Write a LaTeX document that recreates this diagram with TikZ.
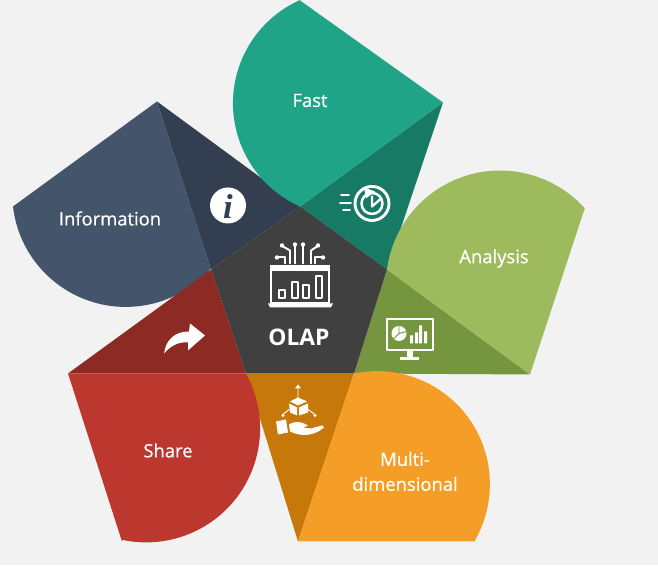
\documentclass[tikz,border=0pt]{standalone}
\usepackage{fontspec}
\setmainfont{Open Sans}
\newfontfamily\labfont[FakeBold=0.6]{Open Sans}
\newfontfamily\infofont{Liberation Serif}
\definecolor{pagebg}{HTML}{F2F2F2}
\definecolor{hubgray}{HTML}{404040}
\definecolor{tealL}{HTML}{1FA487}
\definecolor{tealD}{HTML}{177A65}
\definecolor{greenL}{HTML}{9DBB5D}
\definecolor{greenD}{HTML}{76953F}
\definecolor{orangeL}{HTML}{F49D27}
\definecolor{orangeD}{HTML}{C6780A}
\definecolor{redL}{HTML}{BC372D}
\definecolor{redD}{HTML}{8D2A23}
\definecolor{blueL}{HTML}{44546A}
\definecolor{blueD}{HTML}{333F50}
\tikzset{
    petal/.style = {fill=#1},
    lab/.style = {text=white,font=\labfont\fontsize{13.3}{18}\selectfont,align=center,inner sep=0},
    hublab/.style = {text=white,font=\fontsize{16.5}{18}\selectfont\bfseries,inner sep=0},
    ico/.style = {draw=white,line width=1.4,line cap=round,line join=round},
}
\begin{document}
\begin{tikzpicture}[x=0.0254cm,y=-0.0254cm]

\fill[pagebg] (0,0) rectangle (658,565);

\coordinate (ptop) at (300,206);
\coordinate (pright) at (387,269);
\coordinate (pbr) at (354,373);
\coordinate (pbl) at (246,373);
\coordinate (pleft) at (211,269);
\coordinate (tealtip) at (443,102);
\coordinate (greentip) at (530,374);
\coordinate (orangetip) at (298,541);
\coordinate (redtip) at (68,373);
\coordinate (bluetip) at (157,101);

% light part under the red one
\fill[petal=blueL] (bluetip) -- (13,206) arc[start angle=173.4,end angle=41.5,radius=113.5] -- (pleft) -- cycle;

% dark parts
\fill[petal=blueD] (pleft) -- (bluetip) -- (ptop) -- cycle;
\fill[petal=tealD] (ptop) -- (tealtip) -- (pright) -- cycle;
\fill[petal=greenD] (pright) -- (greentip) -- (pbr) -- cycle;
\fill[petal=orangeD] (pbr) -- (orangetip) -- (pbl) -- cycle;
\fill[petal=redD] (pbl) -- (redtip) -- (pleft) -- cycle;

% light parts
\fill[petal=tealL] (ptop) arc[start angle=114,end angle=246,radius=113] -- (300,0) -- (tealtip) -- cycle;
\fill[petal=greenL] (pright) arc[start angle=187.6,end angle=318,radius=114] -- (585,207) -- (greentip) -- cycle;
\fill[petal=orangeL] (pbr) arc[start angle=258.3,end angle=390,radius=113] -- (476,541) -- (orangetip) -- cycle;
\fill[petal=redL] (pbl) arc[start angle=-28.8,end angle=102,radius=114] -- (122,541) -- (redtip) -- cycle;

\fill[hubgray] (ptop) -- (pright) -- (pbr) -- (pbl) -- (pleft) -- cycle;

% labels
\node[lab] (fast) at (310,100) {Fast};
\node[lab] (analysis) at (494,258) {Analysis};
\node[lab] (multi) at (405,471) {Multi-\\dimensional};
\node[lab] (share) at (168,450) {Share};
\node[lab] (info) at (110,218) {Information};
\node[hublab] (olap) at (299,337) {OLAP};

% info icon
\fill[white] (228,205) circle (18);
\node[text=blueD,font=\infofont\fontsize{25}{25}\selectfont\bfseries\itshape,inner sep=0] (itxt) at (228,206) {i};

% clock icon
\draw[ico,line width=2.1] (372,203) circle (17);
\draw[ico,line width=1.8] (372,203) circle (10.5);
\fill[white] (364,187) -- (375,191) -- (366,198) -- cycle;
\draw[ico,line width=1.7] (372,196) -- (372,206) -- (380,199);
\draw[ico] (341,195) -- (349,195) (340,203) -- (351,203) (343,210) -- (350,210);

% hub icon
\draw[ico] (271,267) rectangle (329,303);
\fill[white] (270,265) rectangle (330,271);
\fill[white] (268,303) -- (333,303) -- (331,307) -- (270,307) -- cycle;
\draw[ico] (279,290) rectangle (285,298);
\draw[ico] (292,282) rectangle (298,298);
\draw[ico] (303,285) rectangle (309,298);
\draw[ico] (316,276) rectangle (322,298);
\draw[ico] (295,263) -- (295,245) (303,263) -- (303,245);
\draw[ico] (290,263) -- (290,250) -- (283,246) (311,263) -- (311,250) -- (317,246);
\draw[ico] (285,263) -- (285,257) -- (277,257) (315,263) -- (315,257) -- (323,257);
\fill[white] (282,245) circle (2.2) (295,244) circle (2.2) (303,244) circle (2.2) (318,245) circle (2.2) (277,257) circle (2.2) (323,257) circle (2.2);

% monitor icon
\draw[ico] (387,319) rectangle (433,350);
\fill[white] (407,350) rectangle (413,357);
\fill[white] (400,357) rectangle (419,360);
\fill[white] (399,333) circle (7.5);
\draw[greenD,line width=0.7] (399,333) -- (399,325) (399,333) -- (407,331) (399,333) -- (393,339);
\fill[white] (410,335) rectangle (413,343) (415,332) rectangle (418,343) (419,325) rectangle (422,343) (424,331) rectangle (427,343);

% hand cube icon
\fill[white] (298,405) -- (290,401) -- (298,397) -- (307,401) -- cycle;
\fill[white] (289,403) -- (297,407) -- (297,415) -- (290,412) -- cycle;
\fill[white] (299,407) -- (308,403) -- (308,412) -- (299,415) -- cycle;
\draw[ico,line width=0.7] (298,397) -- (298,386) (289,409) -- (283,414) (308,409) -- (315,414);
\fill[white] (298,384) -- (295,388) -- (301,388) -- cycle;
\fill[white] (283,415) circle (1.6) (315,415) circle (1.6);
\fill[white] (276,421) -- (286,419) -- (288,432) -- (278,434) -- cycle;
\fill[white] (289,424) .. controls (296,420) and (301,421) .. (308,425) -- (303,427) -- (311,428) -- (322,425) -- (324,427) .. controls (315,435) and (302,437) .. (290,431) -- cycle;

% share arrow
\fill[white] (164,353) .. controls (166,339) and (175,331) .. (189,331) -- (190,323) -- (205,335) -- (188,350) -- (188,342) .. controls (178,341) and (170,346) .. (164,353) -- cycle;

\end{tikzpicture}
\end{document}
